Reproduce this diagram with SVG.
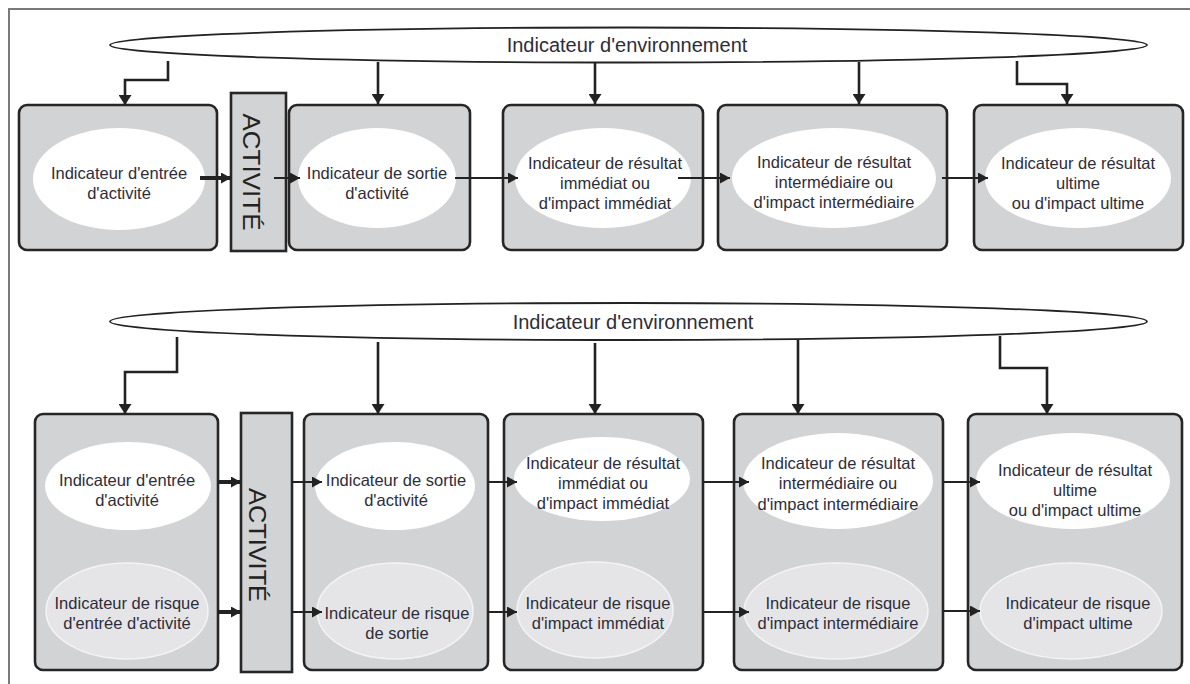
<svg xmlns="http://www.w3.org/2000/svg" width="1190" height="684" viewBox="0 0 1190 684">
  <defs>
    <marker id="headV" markerUnits="userSpaceOnUse" markerWidth="10" markerHeight="13" refX="10" refY="6.5" orient="auto">
      <path d="M0,0 L10,6.5 L0,13 z" fill="#222"/>
    </marker>
    <marker id="headH" markerUnits="userSpaceOnUse" markerWidth="10" markerHeight="11" refX="10" refY="5.5" orient="auto">
      <path d="M0,0 L10,5.5 L0,11 z" fill="#222"/>
    </marker>
    <style>
      .frame { stroke: #7a7a7a; stroke-width: 2; fill: none; }
      .env { fill: #ffffff; stroke: #222; stroke-width: 1.8; }
      .env-text { font-family: "Liberation Sans", Arial, sans-serif; font-size: 20px; fill: #2d2d3a; text-anchor: middle; }
      .box { fill: #d2d3d5; stroke: #262626; stroke-width: 2.6; }
      .act { fill: #d2d3d5; stroke: #262626; stroke-width: 2.6; }
      .act-text { font-family: "Liberation Sans", Arial, sans-serif; font-size: 24px; fill: #222; text-anchor: middle; }
      .ind { fill: #ffffff; stroke: none; }
      .risk { fill: #e5e5e7; stroke: #f4f4f4; stroke-width: 1.5; }
      .lbl { font-family: "Liberation Sans", Arial, sans-serif; font-size: 16.5px; fill: #2d2d3a; text-anchor: middle; }
      .down { fill: none; stroke: #222; stroke-width: 2.6; marker-end: url(#headV); }
      .flow { fill: none; stroke: #222; stroke-width: 2; marker-end: url(#headH); }
      .flow-thick { fill: none; stroke: #222; stroke-width: 4; marker-end: url(#headH); }
    </style>
  </defs>

  <!-- page frame -->
  <path class="frame" d="M9,684 L9,9 L1190,9"/>

  <!-- ===== upper chain ===== -->
  <g id="env-top">
    <ellipse class="env" cx="628.5" cy="45" rx="518.5" ry="17.5"/>
    <text class="env-text" x="627" y="52">Indicateur d'environnement</text>
  </g>

  <g id="top-input">
    <rect class="box" x="19" y="105" width="198" height="145" rx="8"/>
    <ellipse class="ind" cx="119" cy="179" rx="86" ry="51"/>
    <text class="lbl" x="119" y="179">Indicateur d'entrée</text>
    <text class="lbl" x="119" y="199">d'activité</text>
  </g>

  <g id="top-activity">
    <rect class="act" x="231" y="93" width="55" height="158"/>
    <text class="act-text" transform="translate(243,172) rotate(90)" textLength="117" lengthAdjust="spacingAndGlyphs">ACTIVITÉ</text>
  </g>

  <g id="top-output">
    <rect class="box" x="289" y="105" width="181" height="145" rx="8"/>
    <ellipse class="ind" cx="377" cy="178" rx="79" ry="50"/>
    <text class="lbl" x="377" y="179">Indicateur de sortie</text>
    <text class="lbl" x="377" y="199">d'activité</text>
  </g>

  <g id="top-immediate">
    <rect class="box" x="503" y="105" width="200" height="145" rx="8"/>
    <ellipse class="ind" cx="603" cy="178" rx="88" ry="50"/>
    <text class="lbl" x="605" y="169">Indicateur de résultat</text>
    <text class="lbl" x="605" y="189">immédiat ou</text>
    <text class="lbl" x="605" y="209">d'impact immédiat</text>
  </g>

  <g id="top-intermediate">
    <rect class="box" x="718" y="105" width="229" height="145" rx="8"/>
    <ellipse class="ind" cx="834" cy="178" rx="102" ry="50"/>
    <text class="lbl" x="834" y="168">Indicateur de résultat</text>
    <text class="lbl" x="834" y="188">intermédiaire ou</text>
    <text class="lbl" x="834" y="208">d'impact intermédiaire</text>
  </g>

  <g id="top-ultimate">
    <rect class="box" x="974" y="105" width="209" height="145" rx="8"/>
    <ellipse class="ind" cx="1078" cy="178" rx="93" ry="50"/>
    <text class="lbl" x="1078" y="169">Indicateur de résultat</text>
    <text class="lbl" x="1078" y="189">ultime</text>
    <text class="lbl" x="1078" y="209">ou d'impact ultime</text>
  </g>

  <!-- ===== lower chain ===== -->
  <g id="env-bottom">
    <ellipse class="env" cx="628.5" cy="321.5" rx="518.5" ry="18.5"/>
    <text class="env-text" x="633" y="329">Indicateur d'environnement</text>
  </g>

  <g id="bot-input">
    <rect class="box" x="35" y="414" width="183" height="256" rx="8"/>
    <ellipse class="ind" cx="128" cy="486" rx="83" ry="44"/>
    <text class="lbl" x="127" y="486">Indicateur d'entrée</text>
    <text class="lbl" x="127" y="506">d'activité</text>
    <ellipse class="risk" cx="127" cy="611" rx="81" ry="48"/>
    <text class="lbl" x="127" y="609">Indicateur de risque</text>
    <text class="lbl" x="127" y="629">d'entrée d'activité</text>
  </g>

  <g id="bot-activity">
    <rect class="act" x="241" y="413" width="51" height="259"/>
    <text class="act-text" transform="translate(249,545) rotate(90)" textLength="114" lengthAdjust="spacingAndGlyphs">ACTIVITÉ</text>
  </g>

  <g id="bot-output">
    <rect class="box" x="304" y="414" width="184" height="256" rx="8"/>
    <ellipse class="ind" cx="395" cy="486" rx="80" ry="44"/>
    <text class="lbl" x="396" y="486">Indicateur de sortie</text>
    <text class="lbl" x="396" y="506">d'activité</text>
    <ellipse class="risk" cx="395" cy="611" rx="78" ry="48"/>
    <text class="lbl" x="397" y="619">Indicateur de risque</text>
    <text class="lbl" x="397" y="639">de sortie</text>
  </g>

  <g id="bot-immediate">
    <rect class="box" x="504" y="414" width="199" height="256" rx="8"/>
    <ellipse class="ind" cx="602" cy="479" rx="88" ry="42"/>
    <text class="lbl" x="603" y="469">Indicateur de résultat</text>
    <text class="lbl" x="603" y="489">immédiat ou</text>
    <text class="lbl" x="603" y="509">d'impact immédiat</text>
    <ellipse class="risk" cx="595" cy="610" rx="78" ry="48"/>
    <text class="lbl" x="598" y="609">Indicateur de risque</text>
    <text class="lbl" x="598" y="629">d'impact immédiat</text>
  </g>

  <g id="bot-intermediate">
    <rect class="box" x="734" y="414" width="209" height="256" rx="8"/>
    <ellipse class="ind" cx="838" cy="481" rx="95" ry="48"/>
    <text class="lbl" x="838" y="469">Indicateur de résultat</text>
    <text class="lbl" x="838" y="489">intermédiaire ou</text>
    <text class="lbl" x="838" y="510">d'impact intermédiaire</text>
    <ellipse class="risk" cx="836" cy="611" rx="92" ry="48"/>
    <text class="lbl" x="838" y="609">Indicateur de risque</text>
    <text class="lbl" x="838" y="629">d'impact intermédiaire</text>
  </g>

  <g id="bot-ultimate">
    <rect class="box" x="968" y="414" width="214" height="256" rx="8"/>
    <ellipse class="ind" cx="1073" cy="481" rx="97" ry="48"/>
    <text class="lbl" x="1075" y="476">Indicateur de résultat</text>
    <text class="lbl" x="1075" y="496">ultime</text>
    <text class="lbl" x="1075" y="516">ou d'impact ultime</text>
    <ellipse class="risk" cx="1071" cy="611" rx="91" ry="48"/>
    <text class="lbl" x="1078" y="609">Indicateur de risque</text>
    <text class="lbl" x="1078" y="629">d'impact ultime</text>
  </g>

  <!-- ===== connectors ===== -->
  <g id="connectors">
    <!-- upper: environment to each stage -->
    <path class="down" d="M168,61 L168,80 L125,80 L125,105"/>
    <path class="down" d="M378,62 L378,104"/>
    <path class="down" d="M595,63 L595,104"/>
    <path class="down" d="M859,62 L859,104"/>
    <path class="down" d="M1017,61 L1017,84 L1067,84 L1067,104"/>
    <!-- upper: stage to stage -->
    <path class="flow-thick" d="M200,178 L231,178"/>
    <path class="flow" d="M274,178 L300,178"/>
    <path class="flow" d="M455,178 L518,178"/>
    <path class="flow" d="M678,178 L730,178"/>
    <path class="flow" d="M942,178 L988,178"/>

    <!-- lower: environment to each stage -->
    <path class="down" d="M177,337 L177,372 L125,372 L125,414"/>
    <path class="down" d="M378,342 L378,414"/>
    <path class="down" d="M595,343 L595,414"/>
    <path class="down" d="M798,340 L798,414"/>
    <path class="down" d="M1000,336 L1000,368 L1047,368 L1047,414"/>
    <!-- lower: stage to stage, indicator level -->
    <path class="flow-thick" d="M218,482 L241,482"/>
    <path class="flow" d="M292,482 L322,482"/>
    <path class="flow" d="M488,482 L517,482"/>
    <path class="flow" d="M703,482 L749,482"/>
    <path class="flow" d="M943,482 L980,482"/>
    <!-- lower: stage to stage, risk level -->
    <path class="flow-thick" d="M218,612 L241,612"/>
    <path class="flow" d="M292,612 L322,612"/>
    <path class="flow" d="M488,612 L517,612"/>
    <path class="flow" d="M703,612 L749,612"/>
    <path class="flow" d="M943,611 L980,611"/>
  </g>
</svg>
